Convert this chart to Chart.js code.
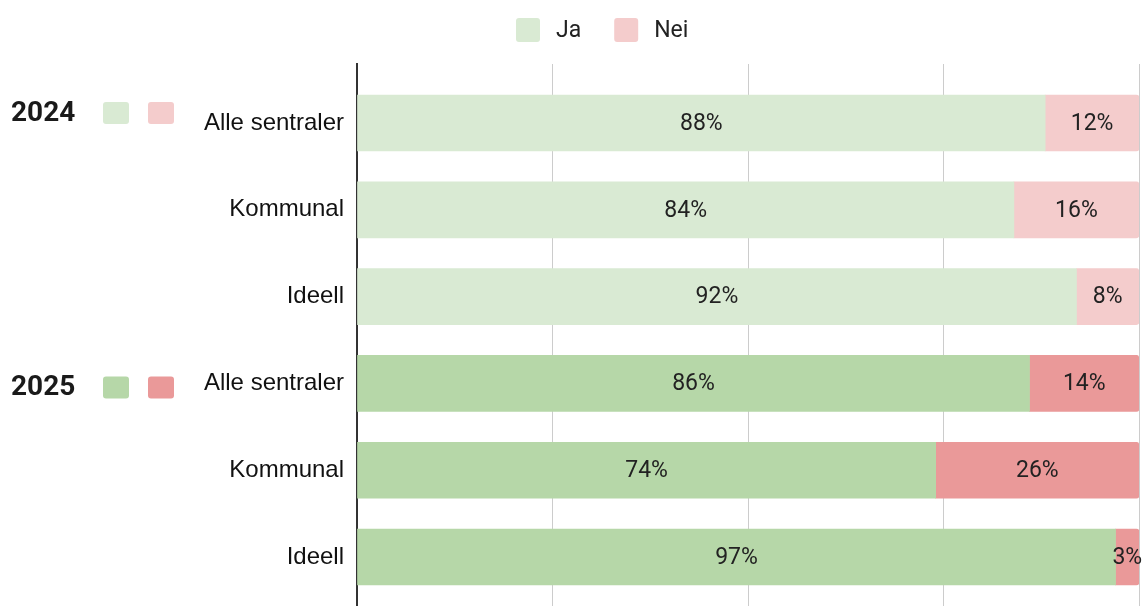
<!DOCTYPE html>
<html>
<head>
<meta charset="utf-8">
<script src="https://cdn.jsdelivr.net/npm/chart.js@4"></script>
<style>
  html, body { margin: 0; padding: 0; background: #fff; }
  #wrap { width: 1142px; height: 606px; position: relative; }
</style>
</head>
<body>
<div id="wrap"><canvas id="chart"></canvas></div>
<script>
// data
const categories = ['Alle sentraler', 'Kommunal', 'Ideell', 'Alle sentraler', 'Kommunal', 'Ideell'];
const years = ['2024', '2025'];
const yearRows = [0, 3];            // first row of each year group
const jaValues = [88, 84, 92, 86, 74, 97];
const neiValues = [12, 16, 8, 14, 26, 3];
const seriesNames = ['Ja', 'Nei'];
const xTicks = [0, 25, 50, 75, 100];

// colours: light = 2024, darker = 2025
const jaColors = ['#d9ead3', '#b6d7a8'];
const neiColors = ['#f4cccc', '#ea9999'];
const yearNudge = [-10, 4];

const groupOf = i => (i < yearRows[1] ? 0 : 1);

const valueLabels = {
  id: 'valueLabels',
  afterDatasetsDraw(chart) {
    const ctx = chart.ctx;
    ctx.save();
    ctx.font = '23px Roboto, "Liberation Sans", Arial, sans-serif';
    ctx.fillStyle = '#222';
    ctx.textAlign = 'center';
    ctx.textBaseline = 'middle';
    chart.data.datasets.forEach((ds, di) => {
      chart.getDatasetMeta(di).data.forEach((el, i) => {
        const cx = (el.x + el.base) / 2;
        ctx.fillText(ds.data[i].x + '%', cx, el.y + 1);
      });
    });
    ctx.restore();
  }
};

function roundBox(ctx, x, y, w, h, r, color) {
  ctx.fillStyle = color;
  ctx.beginPath();
  ctx.roundRect(x, y, w, h, r);
  ctx.fill();
}

const sideLegends = {
  id: 'sideLegends',
  afterDraw(chart) {
    const ctx = chart.ctx;
    const yScale = chart.scales.y;
    ctx.save();

    // top legend
    ctx.font = '23px Roboto, "Liberation Sans", Arial, sans-serif';
    ctx.textBaseline = 'middle';
    ctx.textAlign = 'left';
    let x = 516;
    seriesNames.forEach((name, k) => {
      roundBox(ctx, x, 18, 24, 24, 3, k === 0 ? jaColors[0] : neiColors[0]);
      ctx.fillStyle = '#222';
      ctx.fillText(name, x + 40, 31);
      x += 40 + ctx.measureText(name).width + 33;
    });

    // year labels with swatches
    years.forEach((yr, g) => {
      const cy = yScale.getPixelForValue(yearRows[g]) + yearNudge[g];
      ctx.font = 'bold 28px Roboto, "Liberation Sans", Arial, sans-serif';
      ctx.fillStyle = '#1a1a1a';
      ctx.fillText(yr, 11, cy + 1);
      roundBox(ctx, 103, cy - 11, 26, 22, 3, jaColors[g]);
      roundBox(ctx, 148, cy - 11, 26, 22, 3, neiColors[g]);
    });
    ctx.restore();
  }
};

new Chart(document.getElementById('chart'), {
  type: 'bar',
  data: {
    datasets: [
      {
        label: seriesNames[0],
        data: jaValues.map((v, i) => ({ x: v, y: i })),
        backgroundColor: jaValues.map((v, i) => jaColors[groupOf(i)]),
        barThickness: 56,
        borderRadius: 0
      },
      {
        label: seriesNames[1],
        data: neiValues.map((v, i) => ({ x: v, y: i })),
        backgroundColor: neiValues.map((v, i) => neiColors[groupOf(i)]),
        barThickness: 56,
        borderRadius: 3,
        borderSkipped: 'start'
      }
    ]
  },
  options: {
    indexAxis: 'y',
    responsive: true,
    maintainAspectRatio: false,
    animation: false,
    layout: { padding: { top: 64, right: 3, bottom: 0, left: 0 } },
    plugins: {
      legend: { display: false },
      tooltip: { enabled: false }
    },
    scales: {
      x: {
        type: 'linear',
        stacked: true,
        min: 0,
        max: 100,
        afterBuildTicks: axis => { axis.ticks = xTicks.map(v => ({ value: v })); },
        afterFit: axis => {
          axis.height = 0;
          axis.paddingLeft = 0;
          axis.paddingRight = 0;
        },
        ticks: { display: false },
        grid: { color: '#cccccc', lineWidth: 1, drawTicks: false },
        border: { display: false }
      },
      y: {
        type: 'linear',
        stacked: true,
        reverse: true,
        offset: false,
        min: -0.68,
        max: 5.564,
        afterBuildTicks: axis => { axis.ticks = categories.map((c, i) => ({ value: i })); },
        afterFit: axis => {
          axis.width = 357;
          axis.paddingTop = 0;
          axis.paddingBottom = 0;
        },
        ticks: {
          autoSkip: false,
          padding: 13,
          color: '#111',
          font: { family: '"Liberation Sans", Arial, sans-serif', size: 24 },
          callback: v => categories[v]
        },
        grid: { display: false, drawTicks: false },
        border: { display: true, color: '#333', width: 2 }
      }
    }
  },
  plugins: [valueLabels, sideLegends]
});
</script>
</body>
</html>
